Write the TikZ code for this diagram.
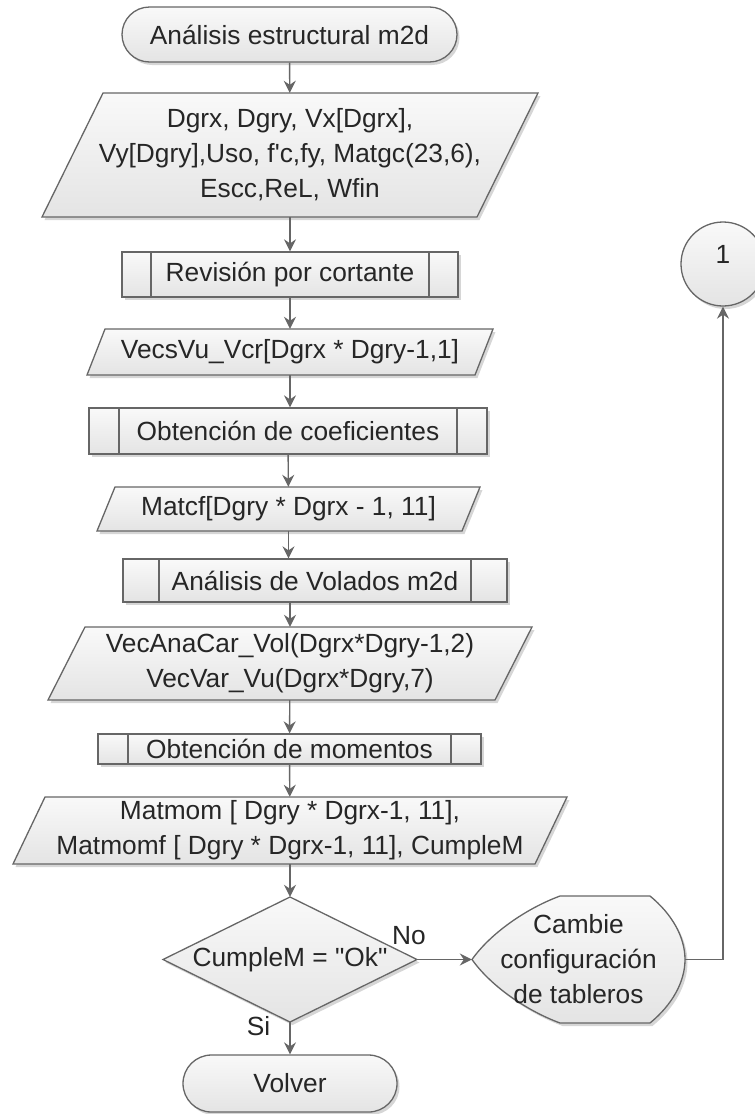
\documentclass[tikz,border=0pt]{standalone}
\usepackage{fontspec}
\setmainfont{Liberation Sans}
\usetikzlibrary{arrows.meta,shapes.misc,shadows}

\definecolor{edge}{HTML}{666666}
\definecolor{ink}{HTML}{262626}
\definecolor{filltop}{HTML}{F9F9F9}
\definecolor{fillbot}{HTML}{E4E4E4}

\tikzset{
  shapebody/.style={draw=edge, line width=1.3pt, top color=filltop, bottom color=fillbot,
    drop shadow={shadow xshift=2.5pt, shadow yshift=-3pt, opacity=0.16, fill=black}},
  txt/.style={inner sep=0pt, align=center, text=ink, font=\fontsize{26.3pt}{35pt}\selectfont},
  flow/.style={draw=edge, line width=1.4pt, -{Stealth[length=12pt,width=12pt,inset=4pt]}},
  barline/.style={draw=edge, line width=1.3pt},
}

% input/output parallelogram: name, cx, cy, width at mid height, height, slant, text
\newcommand\iobox[7]{%
  \path[shapebody] ({#2-#4/2+#6/2},{#3-#5/2}) -- ({#2+#4/2+#6/2},{#3-#5/2})
    -- ({#2+#4/2-#6/2},{#3+#5/2}) -- ({#2-#4/2-#6/2},{#3+#5/2}) -- cycle;
  \node[txt, minimum width=#4pt, minimum height=#5pt] (#1) at (#2,#3) {#7};}

% predefined process box with side bars: name, cx, cy, width, height, bar, text
\newcommand\subproc[7]{%
  \node[shapebody, rectangle, txt, minimum width=#4pt, minimum height=#5pt,
    path picture={
      \draw[barline] ([xshift=#6pt]path picture bounding box.north west) -- ([xshift=#6pt]path picture bounding box.south west);
      \draw[barline] ([xshift=-#6pt]path picture bounding box.north east) -- ([xshift=-#6pt]path picture bounding box.south east);
    }] (#1) at (#2,#3) {#7};}

\begin{document}
\begin{tikzpicture}[x=1pt, y=-1pt]
  \fill[white] (0,0) rectangle (755,1114);
  \useasboundingbox (0,0) rectangle (755,1114);

  % start terminal
  \node[shapebody, rounded rectangle, txt, minimum width=335pt, minimum height=55pt]
    (start) at (289.5,34.5) {Análisis estructural m2d};

  \iobox{inp}{290}{155}{435}{124}{61}{Dgrx, Dgry, Vx[Dgrx],\\Vy[Dgry],Uso, f\textquotesingle c,fy, Matgc(23,6),\\Escc,ReL, Wfin}

  \subproc{rev}{290}{274.5}{336}{45}{29}{Revisión por cortante}

  \iobox{vcr}{290}{352}{388}{46}{18}{VecsVu\_Vcr[Dgrx * Dgry-1,1]}

  \subproc{coef}{288}{431}{398}{46}{30}{Obtención de coeficientes}

  \iobox{mcf}{288.5}{509}{365}{44}{18}{Matcf[Dgry * Dgrx - 1, 11]}

  \subproc{vol}{315}{580.5}{384}{43}{36}{Análisis de Volados m2d}

  \iobox{vac}{290}{663.5}{447}{73}{37}{VecAnaCar\_Vol(Dgrx*Dgry-1,2)\\VecVar\_Vu(Dgrx*Dgry,7)}

  \subproc{mom}{289.5}{749}{383}{30}{30}{Obtención de momentos}

  \iobox{mmo}{290}{830.5}{522}{67}{32}{Matmom [ Dgry * Dgrx-1, 11],\\Matmomf [ Dgry * Dgrx-1, 11], CumpleM}

  % decision
  \path[shapebody] (290,897) -- (417,959.5) -- (290,1022) -- (163,959.5) -- cycle;
  \node[txt, minimum width=254pt, minimum height=125pt] (dec) at (290,959.5)
    {CumpleM = \textquotedbl Ok\textquotedbl};

  % end terminal
  \node[shapebody, rounded rectangle, txt, minimum width=214pt, minimum height=57pt]
    (stop) at (290,1083.5) {Volver};

  % display shape
  \path[shapebody] (560,896) -- (650,896)
    .. controls (672,914) and (685,937) .. (685,959.5)
    .. controls (685,982) and (672,1005) .. (650,1023)
    -- (560,1023)
    .. controls (525,1010) and (490,985) .. (472,959.5)
    .. controls (490,934) and (525,909) .. (560,896) -- cycle;
  \node[txt, minimum width=213pt, minimum height=127pt] (chg) at (578.5,959.5)
    {Cambie\\configuración\\de tableros};

  % off-page connector
  \node[shapebody, circle, txt, minimum size=84pt, text height=19pt, text depth=20pt]
    (con) at (723,264) {1};

  % connectors
  \draw[flow] (start) -- (inp);
  \draw[flow] (inp) -- (rev);
  \draw[flow] (rev) -- (vcr);
  \draw[flow] (vcr.south) -- (vcr.south |- coef.north);
  \draw[flow] (coef) -- (mcf);
  \draw[flow] (mcf.south) -- (mcf.south |- vol.north);
  \draw[flow] (vac.north |- vol.south) -- (vac.north);
  \draw[flow] (vac) -- (mom);
  \draw[flow] (mom) -- (mmo);
  \draw[flow] (mmo) -- (dec);
  \draw[flow] (dec) -- (stop);
  \draw[flow] (dec.east) -- (chg.west);
  \draw[flow] (chg.east) -| (con.south);

  % branch labels
  \node[txt] (lno) at (409,936) {No};
  \node[txt] (lsi) at (258.5,1026) {Si};
\end{tikzpicture}
\end{document}
